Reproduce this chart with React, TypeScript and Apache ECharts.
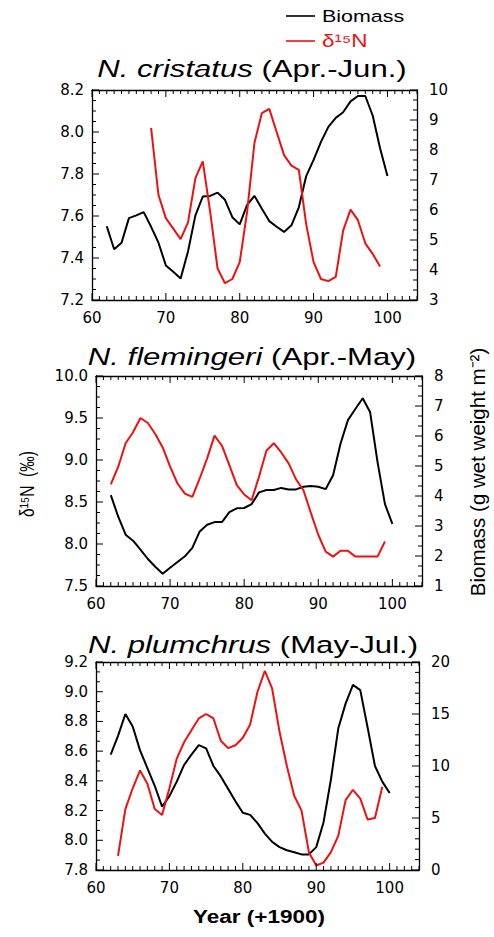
import React, { useEffect, useRef } from "react";
import * as echarts from "echarts";

const FONT = "Liberation Sans, Arial, sans-serif";
const TICK_FONT = "DejaVu Sans, sans-serif";
const RED = "#ee1111";

// Panel 1: N. cristatus (Apr.-Jun.)
const yearsBio1 = [62,63,64,65,66,67,68,69,70,71,72,73,74,75,76,77,78,79,80,81,82,83,84,85,86,87,88,89,90,91,92,93,94,95,96,97,98,99,100];
const bio1 = [5.46,4.69,4.91,5.73,5.82,5.93,5.44,4.91,4.15,3.94,3.72,4.62,5.82,6.45,6.47,6.58,6.34,5.76,5.52,6.17,6.47,6.04,5.63,5.44,5.27,5.49,6.09,7.13,7.67,8.27,8.77,9.07,9.26,9.62,9.8,9.8,9.15,8.06,7.13];
const yearsN1 = [68,69,70,71,72,73,74,75,76,77,78,79,80,81,82,83,84,85,86,87,88,89,90,91,92,93,94,95,96,97,98,99];
const d15n1 = [8.02,7.7,7.59,7.54,7.49,7.57,7.78,7.86,7.62,7.35,7.28,7.3,7.38,7.62,7.95,8.09,8.11,8.0,7.89,7.84,7.82,7.56,7.38,7.3,7.29,7.31,7.53,7.63,7.58,7.47,7.42,7.36];

// Panel 2: N. flemingeri (Apr.-May)
const yearsBio2 = [62,63,64,65,66,67,68,69,70,71,72,73,74,75,76,77,78,79,80,81,82,83,84,85,86,87,88,89,90,91,92,93,94,95,96,97,98,99,100];
const bio2 = [4.03,3.31,2.71,2.51,2.21,1.9,1.64,1.41,1.61,1.8,1.99,2.27,2.82,3.04,3.13,3.13,3.46,3.59,3.6,3.73,4.12,4.2,4.2,4.27,4.22,4.22,4.31,4.33,4.31,4.23,4.69,5.74,6.53,6.9,7.26,6.79,5.13,3.73,3.07];
const yearsN2 = [62,63,64,65,66,67,68,69,70,71,72,73,74,75,76,77,78,79,80,81,82,83,84,85,86,87,88,89,90,91,92,93,94,95,96,97,98,99];
const d15n2 = [8.71,8.92,9.2,9.33,9.5,9.44,9.31,9.15,8.92,8.72,8.6,8.56,8.78,9.02,9.29,9.17,8.94,8.7,8.59,8.52,8.8,9.11,9.2,9.09,8.96,8.77,8.64,8.37,8.11,7.91,7.85,7.92,7.92,7.85,7.85,7.85,7.85,8.03];

// Panel 3: N. plumchrus (May-Jul.)
const yearsBio3 = [62,63,64,65,66,67,68,69,70,71,72,73,74,75,76,77,78,79,80,81,82,83,84,85,86,87,88,89,90,91,92,93,94,95,96,97,98,99,100];
const bio3 = [11.1,12.9,15.0,13.8,11.5,9.8,8.1,6.1,7.1,8.5,10.1,11.1,12.0,11.7,10.0,9.0,7.8,6.6,5.5,5.3,4.5,3.5,2.7,2.2,1.9,1.7,1.5,1.5,2.2,4.6,8.7,13.6,16.0,17.8,17.3,13.7,10.0,8.5,7.4];
const yearsN3 = [63,64,65,66,67,68,69,70,71,72,73,74,75,76,77,78,79,80,81,82,83,84,85,86,87,88,89,90,91,92,93,94,95,96,97,98,99];
const d15n3 = [7.895,8.21,8.35,8.47,8.38,8.21,8.17,8.35,8.55,8.66,8.74,8.82,8.85,8.82,8.67,8.62,8.64,8.69,8.78,9.0,9.14,9.02,8.73,8.5,8.3,8.2,7.92,7.83,7.85,7.92,8.03,8.27,8.34,8.28,8.14,8.15,8.36];

const titles = [
  { sp: "N. cristatus", per: " (Apr.-Jun.)" },
  { sp: "N. flemingeri", per: " (Apr.-May)" },
  { sp: "N. plumchrus", per: " (May-Jul.)" },
];
const leftAxes = [
  { min: 7.2, max: 8.2, interval: 0.2, minor: 4 },
  { min: 7.5, max: 10.0, interval: 0.5, minor: 4 },
  { min: 7.8, max: 9.2, interval: 0.2, minor: 3 },
];
const rightAxes = [
  { min: 3, max: 10, interval: 1, minor: 3 },
  { min: 1, max: 8, interval: 1, minor: 3 },
  { min: 0, max: 20, interval: 5, minor: 5 },
];
const xMin = 60;
const xMax = 104;
const xInterval = 10;

const BIO_NAME = "Biomass";
const N_NAME = "δ¹⁵N";

const axLine = () => ({ show: true, lineStyle: { color: "#000", width: 1.3 } });
const lbl = (extra: any) => ({ color: "#000", fontSize: 15, fontFamily: TICK_FONT, ...extra });

// tick positions along an axis (major every interval, minor subdivisions)
function axisTicks(min: number, max: number, interval: number, minor: number) {
  const step = interval / minor;
  const n = Math.round((max - min) / step);
  const out: { v: number; major: boolean }[] = [];
  for (let k = 0; k <= n; k++) out.push({ v: min + k * step, major: k % minor === 0 });
  return out;
}

const tickRender = (params: any, api: any) => {
  const cs = params.coordSys;
  const pt = api.coord([api.value(0), api.value(1)]);
  const len = api.value(2);
  const kind = api.value(3);
  const st = { stroke: "#000", lineWidth: 1 };
  if (kind === 0) {
    return {
      type: "group",
      children: [
        { type: "line", shape: { x1: pt[0], y1: cs.y + cs.height, x2: pt[0], y2: cs.y + cs.height - len }, style: st },
        { type: "line", shape: { x1: pt[0], y1: cs.y, x2: pt[0], y2: cs.y + len }, style: st },
      ],
    };
  }
  if (kind === 1) {
    return { type: "line", shape: { x1: cs.x, y1: pt[1], x2: cs.x + len, y2: pt[1] }, style: st };
  }
  return { type: "line", shape: { x1: cs.x + cs.width, y1: pt[1], x2: cs.x + cs.width - len, y2: pt[1] }, style: st };
};

export default function App() {
  const ref = useRef<HTMLDivElement>(null);
  useEffect(() => {
    document.body.style.margin = "0";
    const chart = echarts.init(ref.current!, undefined, { renderer: "svg" });
    const grids = [
      { left: 92, top: 90, width: 325, height: 210 },
      { left: 96, top: 376, width: 326, height: 210 },
      { left: 96, top: 662, width: 323, height: 208 },
    ];
    const xAxes: any[] = [];
    const yAxes: any[] = [];
    const series: any[] = [];
    const bios = [
      { x: yearsBio1, y: bio1 },
      { x: yearsBio2, y: bio2 },
      { x: yearsBio3, y: bio3 },
    ];
    const ns = [
      { x: yearsN1, y: d15n1 },
      { x: yearsN2, y: d15n2 },
      { x: yearsN3, y: d15n3 },
    ];
    grids.forEach((g, i) => {
      const la = leftAxes[i];
      const ra = rightAxes[i];
      xAxes.push({
        type: "value", gridIndex: i, min: xMin, max: xMax, interval: xInterval, position: "bottom",
        axisLine: axLine(), axisTick: { show: false },
        axisLabel: lbl({ margin: 10, showMaxLabel: false }), splitLine: { show: false },
      });
      xAxes.push({
        type: "value", gridIndex: i, min: xMin, max: xMax, interval: xInterval, position: "top",
        axisLine: axLine(), axisTick: { show: false },
        axisLabel: { show: false }, splitLine: { show: false },
      });
      yAxes.push({
        type: "value", gridIndex: i, position: "left", min: la.min, max: la.max, interval: la.interval,
        axisLine: axLine(), axisTick: { show: false },
        axisLabel: lbl({ margin: 8, formatter: (v: number) => v.toFixed(1) }), splitLine: { show: false },
      });
      yAxes.push({
        type: "value", gridIndex: i, position: "right", min: ra.min, max: ra.max, interval: ra.interval,
        axisLine: axLine(), axisTick: { show: false },
        axisLabel: lbl({ margin: 12, formatter: (v: number) => String(v) }), splitLine: { show: false },
      });

      series.push({
        type: "line", name: BIO_NAME, xAxisIndex: i * 2, yAxisIndex: i * 2 + 1,
        data: bios[i].x.map((x, k) => [x, bios[i].y[k]]),
        symbol: "none", lineStyle: { color: "#000", width: 2 }, itemStyle: { color: "#000" },
      });
      series.push({
        type: "line", name: N_NAME, xAxisIndex: i * 2, yAxisIndex: i * 2,
        data: ns[i].x.map((x, k) => [x, ns[i].y[k]]),
        symbol: "none", lineStyle: { color: RED, width: 2 }, itemStyle: { color: RED },
      });

      // inward ticks on all four sides of the box
      const leftTickData: number[][] = [];
      axisTicks(xMin, xMax, xInterval, 10).forEach((t) => leftTickData.push([t.v, la.min, t.major ? 7 : 4, 0]));
      axisTicks(la.min, la.max, la.interval, la.minor).forEach((t) => leftTickData.push([xMin, t.v, t.major ? 7 : 4, 1]));
      const rightTickData: number[][] = [];
      axisTicks(ra.min, ra.max, ra.interval, ra.minor).forEach((t) => rightTickData.push([xMin, t.v, t.major ? 7 : 4, 2]));
      series.push({
        type: "custom", xAxisIndex: i * 2, yAxisIndex: i * 2, data: leftTickData,
        encode: { x: 0, y: 1 }, renderItem: tickRender, silent: true, clip: false, z: 5,
      });
      series.push({
        type: "custom", xAxisIndex: i * 2, yAxisIndex: i * 2 + 1, data: rightTickData,
        encode: { x: 0, y: 1 }, renderItem: tickRender, silent: true, clip: false, z: 5,
      });
    });

    const titleY = [69, 357, 645];
    const titleX = [252, 252, 253];
    const graphic: any[] = titles.map((t, i) => ({
      type: "text", x: titleX[i], y: titleY[i], scaleX: 1.27,
      style: {
        text: `{i|${t.sp}}{n|${t.per}}`,
        align: "center", verticalAlign: "middle",
        rich: {
          i: { fontStyle: "italic", fontSize: 24.5, fontFamily: FONT, fill: "#000" },
          n: { fontSize: 24.5, fontFamily: FONT, fill: "#000" },
        },
      },
    }));
    graphic.push({ type: "line", shape: { x1: 286, y1: 16, x2: 315, y2: 16 }, style: { stroke: "#000", lineWidth: 1.6 } });
    graphic.push({
      type: "text", x: 322, y: 16, scaleX: 1.3,
      style: { text: BIO_NAME, fontSize: 16.5, fontFamily: FONT, fill: "#000", align: "left", verticalAlign: "middle" },
    });
    graphic.push({ type: "line", shape: { x1: 286, y1: 41, x2: 315, y2: 41 }, style: { stroke: RED, lineWidth: 1.6 } });
    graphic.push({
      type: "text", x: 322, y: 41, scaleX: 1.25,
      style: { text: N_NAME, fontSize: 18, fontFamily: FONT, fill: RED, align: "left", verticalAlign: "middle" },
    });
    graphic.push({
      type: "text", x: 27, y: 484, rotation: Math.PI / 2, scaleY: 1.3,
      style: { text: "δ¹⁵N  (‰)", fontSize: 15.5, fontFamily: FONT, fill: "#000", align: "center", verticalAlign: "middle" },
    });
    graphic.push({
      type: "text", x: 477, y: 472, rotation: Math.PI / 2,
      style: { text: "Biomass (g wet weight m⁻²)", fontSize: 20.5, fontFamily: FONT, fill: "#000", align: "center", verticalAlign: "middle" },
    });
    graphic.push({
      type: "text", x: 259, y: 917, scaleX: 1.25,
      style: { text: "Year (+1900)", fontSize: 18, fontWeight: "bold", fontFamily: FONT, fill: "#000", align: "center", verticalAlign: "middle" },
    });

    chart.setOption({
      animation: false,
      backgroundColor: "#fff",
      grid: grids,
      xAxis: xAxes,
      yAxis: yAxes,
      series,
      graphic,
    });
    return () => chart.dispose();
  }, []);
  return <div ref={ref} style={{ position: "absolute", left: 0, top: 0, width: 494, height: 937 }} />;
}
